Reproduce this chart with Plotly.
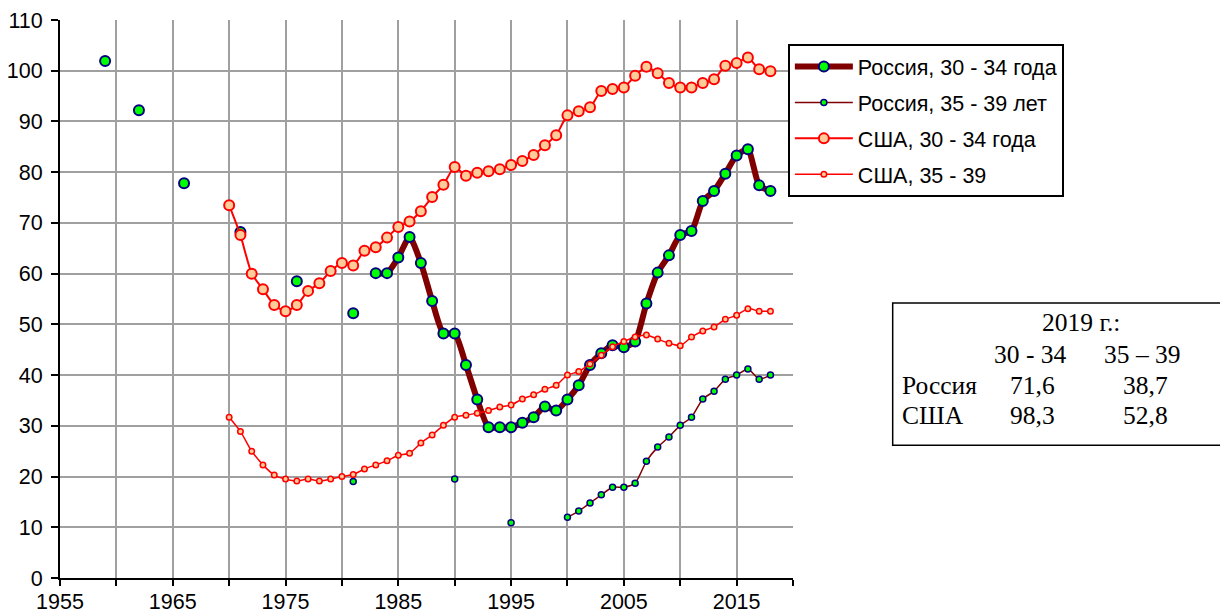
import plotly.graph_objects as go

years = list(range(1959, 2019))

# Россия, 30 - 34 года (None = нет данных)
rus_30_34 = {
    1959: 101.9, 1962: 92.2, 1966: 77.8, 1971: 68.2, 1976: 58.5, 1981: 52.2,
    1983: 60.1, 1984: 60.1, 1985: 63.2, 1986: 67.2, 1987: 62.1, 1988: 54.6,
    1989: 48.2, 1990: 48.2, 1991: 42.0, 1992: 35.2, 1993: 29.7, 1994: 29.7,
    1995: 29.7, 1996: 30.6, 1997: 31.7, 1998: 33.8, 1999: 33.0, 2000: 35.2,
    2001: 38.0, 2002: 42.0, 2003: 44.3, 2004: 45.9, 2005: 45.5, 2006: 46.6,
    2007: 54.1, 2008: 60.2, 2009: 63.6, 2010: 67.6, 2011: 68.4, 2012: 74.3,
    2013: 76.3, 2014: 79.7, 2015: 83.3, 2016: 84.5, 2017: 77.4, 2018: 76.3,
}

# Россия, 35 - 39 лет
rus_35_39 = {
    1981: 19.0, 1990: 19.5, 1995: 10.9,
    2000: 12.0, 2001: 13.2, 2002: 14.8, 2003: 16.4, 2004: 17.9, 2005: 17.9,
    2006: 18.7, 2007: 23.0, 2008: 25.8, 2009: 27.8, 2010: 30.1, 2011: 31.7,
    2012: 35.3, 2013: 36.8, 2014: 39.2, 2015: 40.0, 2016: 41.2, 2017: 39.2,
    2018: 40.0,
}

usa_years = list(range(1970, 2019))

# США, 30 - 34 года
usa_30_34 = [
    73.5, 67.6, 60.0, 56.9, 53.8, 52.6, 53.8, 56.6, 58.1, 60.5,
    62.1, 61.6, 64.5, 65.2, 67.1, 69.2, 70.3, 72.3, 75.1, 77.5,
    81.0, 79.3, 79.9, 80.2, 80.6, 81.4, 82.2, 83.4, 85.3, 87.3,
    91.2, 92.0, 92.8, 96.0, 96.4, 96.7, 99.0, 100.8, 99.5, 97.6,
    96.7, 96.7, 97.6, 98.3, 101.0, 101.5, 102.6, 100.3, 99.9,
]

# США, 35 - 39
usa_35_39 = [
    31.7, 28.9, 25.0, 22.3, 20.3, 19.5, 19.1, 19.5, 19.1, 19.5,
    20.0, 20.4, 21.5, 22.3, 23.1, 24.2, 24.6, 26.6, 28.2, 30.1,
    31.7, 32.1, 32.5, 33.0, 33.7, 34.1, 35.3, 36.1, 37.2, 38.0,
    40.0, 40.7, 42.2, 43.9, 45.6, 46.6, 47.5, 47.9, 47.1, 46.3,
    45.8, 47.5, 48.7, 49.5, 51.0, 51.8, 53.1, 52.6, 52.6,
]

# таблица 2019 г.
table_cols = ["30 - 34", "35 – 39"]
table_rows = ["Россия", "США"]
table_vals = [["71,6", "38,7"], ["98,3", "52,8"]]

ARIAL = "Arial, Liberation Sans, sans-serif"
TIMES = "Times New Roman, Liberation Serif, serif"

fig = go.Figure()

fig.add_trace(go.Scatter(
    x=years, y=[rus_30_34.get(y) for y in years],
    mode="lines+markers", name="Россия, 30 - 34 года", legendgroup="a",
    line=dict(color="#800000", width=6, shape="spline", smoothing=0.6),
    marker=dict(size=10, color="#00FF00", line=dict(color="#000080", width=2)),
    connectgaps=False,
))
fig.add_trace(go.Scatter(
    x=years, y=[rus_35_39.get(y) for y in years],
    mode="lines+markers", name="Россия, 35 - 39 лет", legendgroup="b",
    line=dict(color="#800000", width=1.5, shape="spline", smoothing=0.6),
    marker=dict(size=6, color="#00FF00", line=dict(color="#000080", width=1.5)),
    connectgaps=False,
))
fig.add_trace(go.Scatter(
    x=usa_years, y=usa_30_34,
    mode="lines+markers", name="США, 30 - 34 года", legendgroup="c",
    line=dict(color="#FF0000", width=2, shape="spline", smoothing=0.6),
    marker=dict(size=10, color="#FFCC99", line=dict(color="#FF0000", width=2)),
))
fig.add_trace(go.Scatter(
    x=usa_years, y=usa_35_39,
    mode="lines+markers", name="США, 35 - 39", legendgroup="d",
    line=dict(color="#FF0000", width=1.5, shape="spline", smoothing=0.6),
    marker=dict(size=5.5, color="#FFCC99", line=dict(color="#FF0000", width=1.5)),
))

# текстовое поле с таблицей
fig.add_shape(type="rect", xref="paper", yref="paper",
              x0=1.136, x1=1.587, y0=0.238, y1=0.493,
              line=dict(color="black", width=1.5), fillcolor="white")
tfont = dict(family=TIMES, size=25.5, color="black")
fig.add_annotation(text="2019 г.:", xref="paper", yref="paper",
                   xanchor="center", yanchor="middle",
                   x=1.393, y=0.457, showarrow=False, font=tfont)
col_x = [1.323, 1.477]
for cx, label in zip(col_x, table_cols):
    fig.add_annotation(text=label, xref="paper", yref="paper",
                       xanchor="center", yanchor="middle",
                       x=cx, y=0.400, showarrow=False, font=tfont)
row_y = [0.345, 0.292]
for ry, rname, vals in zip(row_y, table_rows, table_vals):
    fig.add_annotation(text=rname, xref="paper", yref="paper",
                       xanchor="left", yanchor="middle",
                       x=1.146, y=ry, showarrow=False, font=tfont)
    for cx, v in zip(col_x, vals):
        fig.add_annotation(text=v, xref="paper", yref="paper",
                           xanchor="center", yanchor="middle",
                           x=cx + 0.004, y=ry, showarrow=False, font=tfont)

# страница имеет отступ 8px, поэтому размер чуть меньше окна
fig.update_layout(
    width=1220, height=607,
    margin=dict(l=52, r=435, t=12, b=37, autoexpand=False),
    paper_bgcolor="white", plot_bgcolor="white",
    font=dict(family=ARIAL, size=21.5, color="black"),
    legend=dict(
        x=0.993, y=0.957, xanchor="left", yanchor="top",
        bordercolor="black", borderwidth=2, bgcolor="white",
        font=dict(family=ARIAL, size=21.5), tracegroupgap=5,
        itemwidth=58,
    ),
    xaxis=dict(
        range=[1955, 2020], tick0=1955, dtick=10, automargin=False,
        showgrid=True, gridcolor="#A0A0A0", gridwidth=2,
        showline=True, linecolor="black", linewidth=2,
        ticks="outside", ticklen=6, tickwidth=2, tickcolor="black",
        minor=dict(dtick=5, tick0=1955, showgrid=True, gridcolor="#A0A0A0",
                   gridwidth=2, ticks="outside", ticklen=6, tickwidth=2,
                   tickcolor="black"),
        zeroline=False, ticklabelstandoff=-3,
    ),
    yaxis=dict(
        range=[0, 110], dtick=10, automargin=False,
        showgrid=True, gridcolor="#A0A0A0", gridwidth=2,
        showline=True, linecolor="black", linewidth=2,
        ticks="outside", ticklen=7, tickwidth=2, tickcolor="black",
        zeroline=False, ticklabelstandoff=4,
    ),
)

fig.write_html("out.html")
